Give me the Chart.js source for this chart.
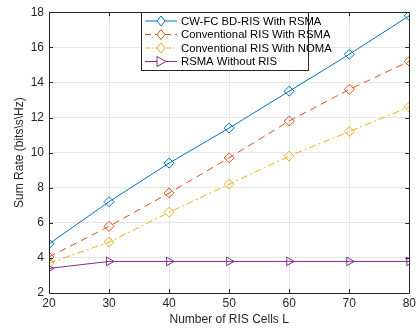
<!DOCTYPE html>
<html>
<head>
<meta charset="utf-8">
<script src="https://cdn.jsdelivr.net/npm/chart.js@4"></script>
<style>
  html, body { margin: 0; padding: 0; background: #fff; }
  #wrap { width: 419px; height: 331px; }
</style>
</head>
<body>
<div id="wrap"><canvas id="chart" width="419" height="331"></canvas></div>
<script>
const cells = [20, 30, 40, 50, 60, 70, 80];
const bdRisRsma = [4.8, 7.2, 9.4, 11.4, 13.5, 15.6, 17.8];
const convRisRsma = [4.05, 5.8, 7.7, 9.7, 11.8, 13.6, 15.2];
const convRisNoma = [3.7, 4.9, 6.6, 8.2, 9.8, 11.2, 12.6];
const rsmaNoRis = [3.4, 3.8, 3.8, 3.8, 3.8, 3.8, 3.8];
const seriesNames = ['CW-FC BD-RIS With RSMA', 'Conventional RIS With RSMA', 'Conventional RIS With NOMA', 'RSMA Without RIS'];
const yTicks = [2, 4, 6, 8, 10, 12, 14, 16, 18];
const xTicks = [20, 30, 40, 50, 60, 70, 80];

const colors = {
    blue: '#0072BD',
    orange: '#D95319',
    yellow: '#EDB120',
    purple: '#7E2F8E',
    grid: '#e6e6e6',
    axis: '#262626'
};

const FONT = "'Liberation Sans', Arial, sans-serif";

function toPoints(vals) {
    return cells.map((c, i) => ({ x: c, y: vals[i] }));
}

const seriesStyle = [
    { color: colors.blue, dash: [], marker: 'rectRot', rot: 0 },
    { color: colors.orange, dash: [7, 5], marker: 'rectRot', rot: 0 },
    { color: colors.yellow, dash: [7, 3, 2, 3], marker: 'rectRot', rot: 0 },
    { color: colors.purple, dash: [], marker: 'triangle', rot: 90 }
];

const datasets = [bdRisRsma, convRisRsma, convRisNoma, rsmaNoRis].map((vals, i) => ({
    label: seriesNames[i],
    data: toPoints(vals),
    borderColor: seriesStyle[i].color,
    backgroundColor: 'rgba(0,0,0,0)',
    borderWidth: 1,
    borderDash: seriesStyle[i].dash,
    pointStyle: seriesStyle[i].marker,
    pointRotation: seriesStyle[i].rot,
    pointRadius: 5,
    pointBorderWidth: 1,
    pointBackgroundColor: 'rgba(0,0,0,0)',
    pointBorderColor: seriesStyle[i].color,
    tension: 0
}));

// box around plot + inner ticks, matlab style
const boxPlugin = {
    id: 'box',
    afterDraw(chart) {
        const { ctx, chartArea: a, scales } = chart;
        ctx.save();
        ctx.strokeStyle = colors.axis;
        ctx.lineWidth = 1;
        ctx.beginPath();
        ctx.rect(Math.round(a.left) + 0.5, Math.round(a.top) + 0.5, Math.round(a.right - a.left), Math.round(a.bottom - a.top));
        ctx.stroke();
        ctx.beginPath();
        xTicks.forEach(v => {
            const x = Math.round(scales.x.getPixelForValue(v)) + 0.5;
            ctx.moveTo(x, a.bottom); ctx.lineTo(x, a.bottom - 4);
            ctx.moveTo(x, a.top); ctx.lineTo(x, a.top + 4);
        });
        yTicks.forEach(v => {
            const y = Math.round(scales.y.getPixelForValue(v)) + 0.5;
            ctx.moveTo(a.left, y); ctx.lineTo(a.left + 4, y);
            ctx.moveTo(a.right, y); ctx.lineTo(a.right - 4, y);
        });
        ctx.stroke();
        ctx.restore();
    }
};

// legend box inside plot area
const legendPlugin = {
    id: 'innerLegend',
    afterDraw(chart) {
        const { ctx } = chart;
        const x0 = 141, y0 = 12, w = 167, h = 58;
        ctx.save();
        ctx.fillStyle = '#fff';
        ctx.fillRect(x0, y0, w, h);
        ctx.strokeStyle = colors.axis;
        ctx.lineWidth = 1;
        ctx.setLineDash([]);
        ctx.strokeRect(x0 + 0.5, y0 + 0.5, w, h);
        ctx.font = '11.3px ' + FONT;
        ctx.textBaseline = 'middle';
        seriesNames.forEach((name, i) => {
            const y = y0 + 9 + i * 13.5;
            const st = seriesStyle[i];
            ctx.strokeStyle = st.color;
            ctx.setLineDash(st.dash.length ? (i === 1 ? [6, 4] : [5, 2, 1.5, 2]) : []);
            ctx.beginPath();
            ctx.moveTo(x0 + 4, y);
            ctx.lineTo(x0 + 36, y);
            ctx.stroke();
            ctx.setLineDash([]);
            ctx.beginPath();
            const cx = x0 + 20;
            if (st.marker === 'triangle') {
                ctx.moveTo(cx + 5, y);
                ctx.lineTo(cx - 4, y - 5);
                ctx.lineTo(cx - 4, y + 5);
                ctx.closePath();
            } else {
                ctx.moveTo(cx, y - 5);
                ctx.lineTo(cx + 4, y);
                ctx.lineTo(cx, y + 5);
                ctx.lineTo(cx - 4, y);
                ctx.closePath();
            }
            ctx.fillStyle = '#fff';
            ctx.fill();
            ctx.stroke();
            ctx.fillStyle = '#000';
            ctx.fillText(name, x0 + 40, y + 0.5);
        });
        ctx.restore();
    }
};

new Chart(document.getElementById('chart').getContext('2d'), {
    type: 'line',
    data: { datasets },
    options: {
        responsive: false,
        animation: false,
        layout: { padding: { left: 0, right: 8, top: 5, bottom: 0 } },
        plugins: {
            legend: { display: false },
            tooltip: { enabled: false }
        },
        scales: {
            x: {
                type: 'linear',
                min: 20,
                max: 80,
                afterBuildTicks: s => { s.ticks = xTicks.map(v => ({ value: v })); },
                afterFit: s => { s.height = 38; },
                grid: { color: colors.grid, drawTicks: false },
                border: { display: false },
                ticks: { color: '#262626', padding: 3, font: { family: FONT, size: 12 }, maxRotation: 0 },
                title: { display: true, text: 'Number of RIS Cells L', color: '#262626', padding: { top: 2, bottom: 4 }, font: { family: FONT, size: 12 } }
            },
            y: {
                min: 2,
                max: 18,
                afterBuildTicks: s => { s.ticks = yTicks.map(v => ({ value: v })); },
                afterFit: s => { s.width = 49; },
                grid: { color: colors.grid, drawTicks: false },
                border: { display: false },
                ticks: { color: '#262626', padding: 5, font: { family: FONT, size: 12 } },
                title: { display: true, text: 'Sum Rate (bits\\s\\Hz)', color: '#262626', padding: { top: 12, bottom: 4 }, font: { family: FONT, size: 12 } }
            }
        }
    },
    plugins: [boxPlugin, legendPlugin]
});
</script>
</body>
</html>
